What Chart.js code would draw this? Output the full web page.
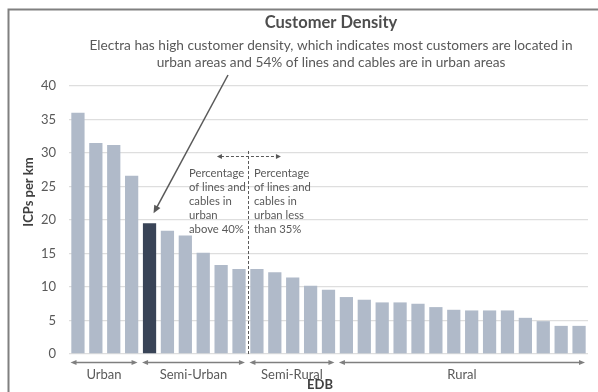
<!DOCTYPE html>
<html><head><meta charset="utf-8">
<script src="https://cdn.jsdelivr.net/npm/chart.js@4"></script>
<style>html,body{margin:0;padding:0;background:#fff}#wrap{width:598px;height:392px;position:relative}</style>
</head><body><div id="wrap"><canvas id="c" width="598" height="392"></canvas></div>
<script>
// ---- data ----
const categories = ['EDB 1','EDB 2','EDB 3','EDB 4','Electra','EDB 6','EDB 7','EDB 8','EDB 9','EDB 10',
  'EDB 11','EDB 12','EDB 13','EDB 14','EDB 15','EDB 16','EDB 17','EDB 18','EDB 19','EDB 20',
  'EDB 21','EDB 22','EDB 23','EDB 24','EDB 25','EDB 26','EDB 27','EDB 28','EDB 29'];
const icpsPerKm = [36.0, 31.5, 31.2, 26.6, 19.5, 18.4, 17.7, 15.1, 13.3, 12.7,
  12.7, 12.2, 11.4, 10.2, 9.6, 8.5, 8.1, 7.7, 7.7, 7.5,
  7.0, 6.6, 6.5, 6.5, 6.5, 5.4, 4.9, 4.2, 4.2];
const highlightIndex = 4;
const yMin = 0, yMax = 40, yStep = 5;
const groupLabels = ['Urban', 'Semi-Urban', 'Semi-Rural', 'Rural'];
const groupStart = [0, 4, 10, 15];
const groupEnd = [3, 9, 14, 28];
const titleText = 'Customer Density';
const subtitleLines = ['Electra has high customer density, which indicates most customers are located in',
  'urban areas and 54% of lines and cables are in urban areas'];
const leftNote = ['Percentage', 'of lines and', 'cables in', 'urban', 'above 40%'];
const rightNote = ['Percentage', 'of lines and', 'cables in', 'urban less', 'than 35%'];
const yTitle = 'ICPs per km';
const xTitle = 'EDB';

const FONT = 'Lato, "Open Sans", sans-serif';
const TXT = '#595959';
const barColors = icpsPerKm.map((v, i) => i === highlightIndex ? '#394457' : '#b0bac9');

function arrowHead(ctx, x, y, ang, len, wid) {
  ctx.beginPath();
  ctx.moveTo(x, y);
  ctx.lineTo(x - len * Math.cos(ang) + wid * Math.sin(ang), y - len * Math.sin(ang) - wid * Math.cos(ang));
  ctx.lineTo(x - len * Math.cos(ang) - wid * Math.sin(ang), y - len * Math.sin(ang) + wid * Math.cos(ang));
  ctx.closePath();
  ctx.fill();
}

const deco = {
  id: 'deco',
  beforeDraw(chart) {
    const ctx = chart.ctx;
    ctx.save();
    ctx.fillStyle = '#fff';
    ctx.fillRect(0, 0, chart.width, chart.height);
    ctx.restore();
  },
  afterDraw(chart) {
    const ctx = chart.ctx;
    const xs = chart.scales.x, ys = chart.scales.y;
    const step = xs.getPixelForValue(1) - xs.getPixelForValue(0);
    ctx.save();
    // border box
    ctx.strokeStyle = '#808080';
    ctx.lineWidth = 2;
    ctx.beginPath();
    ctx.moveTo(8.5, 420); ctx.lineTo(8.5, 9.5); ctx.lineTo(620, 9.5);
    ctx.stroke();

    // title & subtitle
    ctx.textAlign = 'center';
    ctx.textBaseline = 'middle';
    ctx.fillStyle = '#4d4d4d';
    ctx.font = 'bold 16.5px ' + FONT;
    ctx.fillText(titleText, 331, 23);
    ctx.fillStyle = TXT;
    ctx.font = '13.7px ' + FONT;
    ctx.fillText(subtitleLines[0], 331, 46);
    ctx.fillText(subtitleLines[1], 331, 63);

    // electra arrow
    const tipX = xs.getPixelForValue(highlightIndex) + 4;
    const tipY = ys.getPixelForValue(icpsPerKm[highlightIndex]) - 10;
    const sx = 228, sy = 75;
    ctx.strokeStyle = TXT; ctx.fillStyle = TXT; ctx.lineWidth = 1.5;
    const ang = Math.atan2(tipY - sy, tipX - sx);
    ctx.beginPath(); ctx.moveTo(sx, sy);
    ctx.lineTo(tipX - 6 * Math.cos(ang), tipY - 6 * Math.sin(ang)); ctx.stroke();
    arrowHead(ctx, tipX, tipY, ang, 8, 3.5);

    // dashed divider
    const bx = (xs.getPixelForValue(groupEnd[1]) + xs.getPixelForValue(groupStart[2])) / 2;
    ctx.lineWidth = 1;
    ctx.setLineDash([3, 2]);
    ctx.beginPath();
    ctx.moveTo(Math.round(bx) + 0.5, ys.getPixelForValue(30.3));
    ctx.lineTo(Math.round(bx) + 0.5, ys.getPixelForValue(0));
    ctx.stroke();
    const hy = Math.round(ys.getPixelForValue(29.5)) + 0.5;
    ctx.beginPath();
    ctx.moveTo(bx - 27, hy); ctx.lineTo(bx + 29, hy); ctx.stroke();
    ctx.setLineDash([]);
    arrowHead(ctx, bx - 31, hy, Math.PI, 5, 2.5);
    arrowHead(ctx, bx + 33, hy, 0, 5, 2.5);

    // notes
    ctx.font = '11.3px ' + FONT;
    ctx.textAlign = 'left';
    ctx.fillStyle = TXT;
    leftNote.forEach((t, i) => ctx.fillText(t, bx - 59, 173 + i * 14));
    rightNote.forEach((t, i) => ctx.fillText(t, bx + 6, 173 + i * 14));

    // group arrows & labels
    const ay = ys.getPixelForValue(0) + 8.5;
    ctx.lineWidth = 1.3;
    ctx.font = '13px ' + FONT;
    ctx.textAlign = 'center';
    groupLabels.forEach((g, i) => {
      const x0 = xs.getPixelForValue(groupStart[i]) - step / 2 + 1.5;
      const x1 = xs.getPixelForValue(groupEnd[i]) + step / 2 - 3;
      ctx.strokeStyle = '#7f7f7f'; ctx.fillStyle = '#7f7f7f';
      ctx.beginPath(); ctx.moveTo(x0 + 3, ay); ctx.lineTo(x1 - 3, ay); ctx.stroke();
      arrowHead(ctx, x0, ay, Math.PI, 6, 2.5);
      arrowHead(ctx, x1, ay, 0, 6, 2.5);
      ctx.fillStyle = TXT;
      ctx.fillText(g, (x0 + x1) / 2, ay + 12);
    });

    // axis titles
    ctx.fillStyle = '#404040';
    ctx.font = 'bold 13px ' + FONT;
    ctx.fillText(xTitle, 320, 385);
    ctx.save();
    ctx.translate(29, 192);
    ctx.rotate(-Math.PI / 2);
    ctx.fillText(yTitle, 0, 0);
    ctx.restore();
    ctx.restore();
  }
};

new Chart(document.getElementById('c'), {
  type: 'bar',
  data: {
    labels: categories,
    datasets: [{
      data: icpsPerKm,
      backgroundColor: barColors,
      borderWidth: 0,
      categoryPercentage: 1,
      barPercentage: 0.74
    }]
  },
  options: {
    responsive: false,
    animation: false,
    devicePixelRatio: 1,
    layout: { padding: { left: 0, top: 86, right: 10, bottom: 38 } },
    plugins: { legend: { display: false }, tooltip: { enabled: false }, title: { display: false } },
    scales: {
      x: { display: false },
      y: {
        min: yMin, max: yMax,
        ticks: { stepSize: yStep, color: TXT, font: { family: FONT, size: 13 }, padding: 13 },
        grid: { color: '#dedede', lineWidth: 1.3, drawTicks: false },
        border: { display: false },
        afterFit(scale) { scale.width = 69; }
      }
    }
  },
  plugins: [deco]
});
</script>
</body></html>
